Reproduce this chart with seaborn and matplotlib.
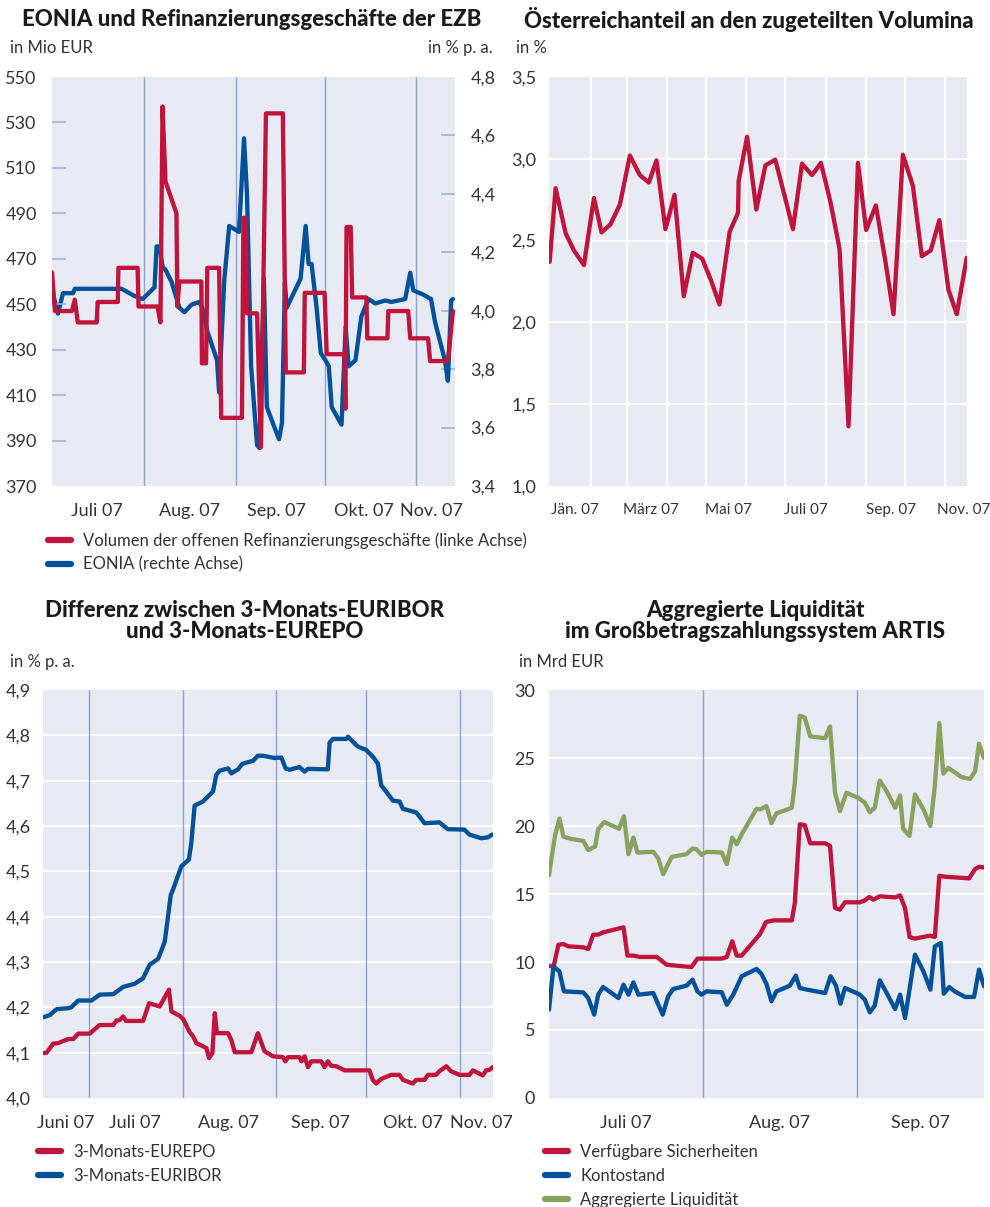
import seaborn as sns
import matplotlib.pyplot as plt
import matplotlib.ticker as ticker
from matplotlib.lines import Line2D

# x values are day-of-year 2007 (1 = 1 Jan)

# --- Panel 1: EONIA und Refinanzierungsgeschäfte ---
vol_days = [182.0, 183.0, 188.7, 189.7, 190.7, 197.1, 197.4, 204.2, 204.4, 210.9,
            211.2, 217.6, 218.6, 219.3, 220.3, 224.0, 224.3, 225.0, 232.4, 232.6,
            234.0, 234.4, 238.4, 239.1, 246.1, 246.6, 247.4, 247.8, 251.2, 252.5,
            254.2, 259.9, 260.9, 267.0, 267.3, 274.0, 274.7, 280.7, 281.0, 281.4,
            282.8, 283.3, 288.1, 288.4, 295.2, 295.5, 302.2, 302.9, 308.9, 309.6,
            315.6, 317.3]
vol_vals = [464, 447, 447, 452, 442, 442, 451, 451, 466, 466,
            449, 449, 442, 537, 504, 490, 449, 460, 460, 424,
            424, 466, 466, 400, 400, 488, 488, 446, 446, 387,
            534, 534, 420, 420, 455, 455, 428, 428, 404, 484,
            484, 453, 453, 435, 435, 447, 447, 435, 435, 425,
            425, 447]
eonia_days = [182.0, 184.0, 185.7, 189.1, 189.7, 205.5, 209.9, 212.6, 216.6, 217.3,
              218.3, 219.3, 220.3, 222.3, 225.0, 226.7, 229.0, 231.7, 232.7, 234.4,
              237.7, 238.4, 240.1, 241.8, 245.1, 246.8, 247.8, 249.2, 251.2, 252.0,
              253.5, 254.5, 258.6, 259.6, 260.6, 261.2, 265.9, 267.6, 268.6, 269.6,
              271.3, 272.7, 274.3, 275.4, 276.4, 279.7, 281.1, 282.1, 284.4, 286.4,
              288.8, 291.1, 294.5, 296.5, 301.2, 302.9, 303.9, 307.3, 309.9, 311.3,
              314.6, 315.6, 316.7, 317.3]
eonia_vals = [4.07, 3.99, 4.06, 4.06, 4.075, 4.075, 4.05, 4.04, 4.08, 4.22,
              4.22, 4.15, 4.14, 4.10, 4.01, 3.995, 4.02, 4.03, 4.01, 3.93,
              3.83, 3.72, 4.10, 4.29, 4.27, 4.59, 4.40, 3.81, 3.54, 3.53,
              4.11, 3.67, 3.56, 3.615, 4.095, 4.01, 4.11, 4.29, 4.16, 4.16,
              4.01, 3.855, 3.83, 3.81, 3.67, 3.61, 3.945, 3.81, 3.83, 3.98,
              4.04, 4.025, 4.035, 4.03, 4.04, 4.13, 4.07, 4.055, 4.04, 3.96,
              3.83, 3.76, 4.035, 4.04]

# --- Panel 2: Österreichanteil ---
aut_days = [0.5, 5.1, 12.8, 19.2, 26.9, 34.6, 40.5, 47.4, 54.6, 62.3,
            70.0, 76.9, 82.8, 89.7, 96.7, 103.8, 110.7, 118.0, 124.9, 131.3,
            139.2, 145.6, 146.1, 152.6, 159.7, 166.7, 174.3, 181.3, 187.9, 194.9,
            202.6, 209.5, 216.7, 223.8, 230.7, 238.0, 244.3, 251.8, 259.0, 265.4,
            272.6, 280.3, 287.2, 294.1, 300.7, 307.7, 314.1, 321.8]
aut_vals = [2.37, 2.82, 2.545, 2.44, 2.35, 2.76, 2.55, 2.60, 2.72, 3.02,
            2.90, 2.855, 2.99, 2.57, 2.78, 2.16, 2.425, 2.39, 2.255, 2.11,
            2.555, 2.67, 2.865, 3.135, 2.69, 2.96, 2.995, 2.78, 2.57, 2.97,
            2.90, 2.975, 2.74, 2.45, 1.365, 2.975, 2.565, 2.715, 2.38, 2.05,
            3.025, 2.835, 2.405, 2.44, 2.625, 2.20, 2.05, 2.395]

# --- Panel 3: EURIBOR / EUREPO ---
eur_days = [166.75, 169.0, 171.2, 175.0, 176.1, 178.4, 182.8, 185.5, 190.0, 193.3,
            197.1, 199.9, 202.1, 204.9, 207.1, 209.1, 209.8, 212.6, 215.1, 215.9,
            217.0, 219.8, 221.4, 223.1, 224.2, 225.3, 228.1, 229.2, 231.4, 232.8,
            236.4, 238.0, 239.7, 243.5, 245.8, 247.2, 248.5, 251.8, 253.5, 254.6,
            261.2, 261.8, 262.9, 267.3, 267.9, 269.5, 271.2, 273.9, 276.1, 277.8,
            278.9, 281.1, 282.8, 285.0, 286.1, 290.5, 291.6, 293.3, 298.2, 301.0,
            306.5, 308.2, 312.1, 314.3, 315.7]
eur_vals = [4.178, 4.183, 4.196, 4.198, 4.20, 4.215, 4.215, 4.228, 4.229, 4.245,
            4.252, 4.264, 4.294, 4.307, 4.345, 4.448, 4.459, 4.511, 4.526, 4.562,
            4.645, 4.654, 4.665, 4.676, 4.713, 4.722, 4.727, 4.716, 4.725, 4.737,
            4.744, 4.755, 4.755, 4.750, 4.751, 4.727, 4.724, 4.730, 4.720, 4.726,
            4.725, 4.784, 4.792, 4.792, 4.797, 4.786, 4.775, 4.768, 4.753, 4.738,
            4.69, 4.671, 4.656, 4.654, 4.638, 4.630, 4.621, 4.606, 4.608, 4.593,
            4.592, 4.581, 4.573, 4.575, 4.581]
rep_days = [166.75, 167.9, 170.1, 171.7, 175.0, 176.7, 178.4, 182.2, 183.9, 185.5,
            190.0, 191.1, 192.2, 193.3, 194.2, 199.9, 201.9, 205.4, 208.5, 209.3,
            212.1, 213.2, 215.4, 216.5, 217.6, 219.8, 220.9, 221.8, 222.9, 223.7,
            224.4, 228.1, 229.2, 230.3, 235.8, 238.0, 240.2, 243.0, 246.3, 247.1,
            248.0, 251.8, 252.4, 253.5, 254.6, 255.7, 259.0, 260.1, 261.2, 262.3,
            264.0, 266.8, 275.0, 276.1, 277.2, 278.9, 282.2, 285.0, 286.1, 289.4,
            290.5, 293.3, 294.4, 297.1, 298.2, 300.5, 302.1, 304.9, 308.2, 309.3,
            312.6, 313.7, 314.8, 315.9]
rep_vals = [4.099, 4.10, 4.12, 4.121, 4.130, 4.130, 4.142, 4.142, 4.152, 4.161,
            4.161, 4.171, 4.172, 4.18, 4.170, 4.170, 4.209, 4.202, 4.239, 4.191,
            4.181, 4.174, 4.145, 4.136, 4.121, 4.114, 4.110, 4.088, 4.099, 4.187,
            4.143, 4.143, 4.128, 4.101, 4.101, 4.143, 4.103, 4.092, 4.090, 4.081,
            4.090, 4.090, 4.081, 4.092, 4.068, 4.081, 4.081, 4.068, 4.081, 4.071,
            4.070, 4.061, 4.061, 4.040, 4.032, 4.042, 4.051, 4.051, 4.040, 4.032,
            4.040, 4.040, 4.051, 4.051, 4.059, 4.070, 4.059, 4.051, 4.051, 4.061,
            4.050, 4.061, 4.062, 4.068]

# --- Panel 4: ARTIS ---
liq_days = [182.0, 183.2, 184.1, 184.9, 186.2, 188.9, 189.9, 191.3, 191.9, 193.1,
            196.1, 197.1, 198.0, 199.0, 199.8, 203.0, 204.0, 205.0, 206.7, 209.7,
            210.9, 211.7, 212.7, 213.7, 216.8, 217.8, 218.9, 219.8, 220.8, 223.8,
            224.5, 225.8, 226.8, 227.8, 230.9, 231.5, 232.5, 233.5, 234.6, 237.6,
            238.6, 239.6, 240.6, 241.9, 244.3, 245.6, 246.6, 247.6, 248.6, 250.0,
            251.7, 252.7, 253.3, 254.6, 255.7, 257.4, 258.8, 259.7, 260.6, 261.4,
            262.4, 263.7, 265.1, 266.8, 267.8, 268.6, 269.6]
liq_vals = [16.39, 19.27, 20.54, 19.22, 19.07, 18.90, 18.24, 18.49, 19.76, 20.29,
            19.80, 20.73, 17.93, 19.15, 18.05, 18.10, 17.61, 16.46, 17.73, 17.93,
            18.34, 18.29, 17.88, 18.10, 18.05, 17.20, 19.15, 18.66, 19.39, 21.27,
            21.22, 21.46, 20.20, 20.93, 21.34, 23.17, 28.10, 27.98, 26.59, 26.46,
            27.32, 22.44, 21.10, 22.44, 22.07, 21.71, 21.02, 21.34, 23.34, 22.56,
            21.34, 22.24, 19.80, 19.27, 22.32, 21.22, 20.00, 22.93, 27.56, 23.85,
            24.27, 23.95, 23.59, 23.46, 24.02, 26.05, 25.00]
sich_days = [182.0, 182.9, 183.9, 184.9, 185.9, 188.9, 189.9, 190.9, 191.9, 192.9,
             197.0, 197.8, 199.0, 200.3, 203.7, 205.7, 207.0, 210.7, 211.9, 216.8,
             217.8, 218.9, 219.8, 220.8, 224.5, 225.7, 227.2, 230.9, 231.5, 232.5,
             233.5, 234.6, 237.6, 238.6, 239.6, 240.6, 241.6, 244.6, 245.6, 246.5,
             247.3, 248.6, 251.7, 252.7, 253.7, 254.6, 255.7, 258.7, 259.7, 260.6,
             261.7, 266.6, 267.8, 268.6, 269.6]
sich_vals = [9.73, 9.63, 11.27, 11.32, 11.15, 11.08, 10.96, 12.01, 12.01, 12.18,
             12.55, 10.47, 10.47, 10.37, 10.37, 9.80, 9.75, 9.63, 10.25, 10.25,
             10.37, 11.52, 10.47, 10.47, 12.06, 12.94, 13.06, 13.06, 14.34, 20.12,
             20.07, 18.73, 18.73, 18.54, 13.97, 13.85, 14.39, 14.39, 14.53, 14.78,
             14.58, 14.83, 14.75, 14.90, 13.97, 11.84, 11.72, 11.94, 11.84, 16.34,
             16.27, 16.15, 16.83, 17.0, 16.95]
konto_days = [182.0, 182.9, 184.1, 185.0, 188.9, 189.9, 191.1, 191.9, 192.9, 196.0,
              197.0, 198.0, 199.0, 200.0, 203.0, 204.9, 206.0, 207.0, 209.7, 210.9,
              211.9, 212.7, 213.7, 216.8, 217.8, 219.1, 220.8, 223.8, 224.8, 225.8,
              226.8, 227.8, 230.5, 231.7, 232.5, 233.9, 237.6, 238.7, 239.8, 240.7,
              241.6, 243.6, 244.6, 245.6, 246.6, 247.6, 248.6, 250.0, 251.7, 252.7,
              253.7, 255.7, 257.4, 258.8, 259.7, 260.9, 261.5, 262.6, 263.7, 265.8,
              267.6, 268.6, 269.6]
konto_vals = [6.50, 9.68, 9.31, 7.84, 7.77, 7.35, 6.13, 7.60, 8.16, 7.35,
              8.33, 7.60, 8.50, 7.60, 7.72, 6.13, 7.48, 8.01, 8.26, 8.70,
              7.84, 7.60, 7.84, 7.77, 6.86, 7.60, 8.95, 9.49, 9.12, 8.38,
              7.11, 7.84, 8.26, 9.00, 8.09, 7.97, 7.72, 8.95, 8.26, 6.94,
              8.09, 7.77, 7.60, 7.23, 6.30, 6.79, 8.65, 7.72, 6.54, 7.60,
              5.88, 10.54, 9.31, 7.97, 11.15, 11.40, 7.67, 8.16, 7.84, 7.43,
              7.43, 9.44, 8.21]

month_starts = [32, 60, 91, 121, 152, 182, 213, 244, 274, 305]

RED = "#c0143c"
BLUE = "#00509a"
GREEN = "#89a15e"
BG = "#e7e9f3"
VLINE = "#8ea2d0"
TEXT = "#333333"

sns.set_theme(style="white")
plt.rcParams['font.family'] = ['Lato', 'DejaVu Sans']
plt.rcParams['text.color'] = TEXT

fig = plt.figure(figsize=(9.9, 12.07), dpi=100)
W, H = 990, 1207


def px_axes(l, t, r, b):
    return fig.add_axes([l / W, 1 - b / H, (r - l) / W, (b - t) / H])


def comma(v, pos):
    return f"{v:.1f}".replace(".", ",")


def base_style(ax):
    ax.set_facecolor(BG)
    for s in ax.spines.values():
        s.set_visible(False)
    ax.tick_params(axis="both", length=0, labelsize=13, labelcolor=TEXT)
    ax.set_xlabel("")
    ax.set_ylabel("")


def ftext(x, y, s, **kw):
    fig.text(x / W, 1 - y / H, s, **kw)


def legend_at(x, y, colors, labels):
    handles = [Line2D([0], [0], color=c, lw=4.5, solid_capstyle="round") for c in colors]
    fig.legend(handles, labels, loc="upper left", bbox_to_anchor=(x / W, 1 - y / H),
               frameon=False, fontsize=12, handlelength=1.4, handletextpad=0.7,
               labelspacing=0.47, borderpad=0, borderaxespad=0)


line_kw = dict(estimator=None, sort=False, lw=3.1)
title_kw = dict(ha="center", va="center", fontsize=16, fontweight="black",
                color="#1a1a1a", linespacing=1.0)

# ---------------- Panel 1 ----------------
ax1 = px_axes(52, 77, 455, 486)
base_style(ax1)
ax1r = ax1.twinx()
for s in ax1r.spines.values():
    s.set_visible(False)
# background, month lines and EONIA on the twin, volume drawn above it
ax1r.set_zorder(1)
ax1.set_zorder(2)
ax1.patch.set_visible(False)
ax1r.patch.set_visible(True)
ax1r.set_facecolor(BG)
for d in [213, 244, 274, 305]:
    ax1r.axvline(d, color=VLINE, lw=1, zorder=1)
sns.lineplot(x=eonia_days, y=eonia_vals, ax=ax1r, color=BLUE, **line_kw)
sns.lineplot(x=vol_days, y=vol_vals, ax=ax1, color=RED, **line_kw)
ax1.set_xlim(182, 318)
ax1.set_ylim(370, 550)
ax1.set_yticks(range(370, 551, 20))
ax1.tick_params(axis="y", direction="in", length=10, width=1.2, color="#9fb1da", pad=11)
ax1.set_xticks([197.1, 228.3, 257.6, 287.4, 310.0],
               ["Juli 07", "Aug. 07", "Sep. 07", "Okt. 07", "Nov. 07"])
ax1.tick_params(axis="x", pad=12)
yt = ax1.yaxis.get_major_ticks()
yt[0].tick1line.set_visible(False)
yt[-1].tick1line.set_visible(False)

ax1r.set_ylim(3.4, 4.8)
ax1r.set_yticks([3.4, 3.6, 3.8, 4.0, 4.2, 4.4, 4.6, 4.8])
ax1r.yaxis.set_major_formatter(ticker.FuncFormatter(comma))
ax1r.tick_params(axis="y", direction="in", length=10, width=1.2, color="#9fb1da",
                 pad=11, labelsize=13, labelcolor=TEXT)
ax1r.set_ylabel("")
yt = ax1r.yaxis.get_major_ticks()
yt[0].tick2line.set_visible(False)
yt[-1].tick2line.set_visible(False)

ftext(252, 20, "EONIA und Refinanzierungsgeschäfte der EZB", **title_kw)
ftext(10, 48, "in Mio EUR", ha="left", va="center", fontsize=12)
ftext(493, 48, "in % p. a.", ha="right", va="center", fontsize=12)
legend_at(48, 532, [RED, BLUE],
          ["Volumen der offenen Refinanzierungsgeschäfte (linke Achse)", "EONIA (rechte Achse)"])

# ---------------- Panel 2 ----------------
ax2 = px_axes(549, 77, 967, 486)
base_style(ax2)
for d in month_starts:
    ax2.axvline(d, color="white", lw=1.5, zorder=1)
for v in [1.5, 2.0, 2.5, 3.0]:
    ax2.axhline(v, color="white", lw=1.5, zorder=1)
sns.lineplot(x=aut_days, y=aut_vals, ax=ax2, color=RED, **line_kw)
ax2.set_xlim(0, 322)
ax2.set_ylim(1.0, 3.5)
ax2.set_yticks([1.0, 1.5, 2.0, 2.5, 3.0, 3.5])
ax2.yaxis.set_major_formatter(ticker.FuncFormatter(comma))
ax2.tick_params(axis="y", pad=9)
ax2.set_xticks([19.7, 78.2, 138.2, 198.2, 263.6, 319.7],
               ["Jän. 07", "März 07", "Mai 07", "Juli 07", "Sep. 07", "Nov. 07"])
ax2.tick_params(axis="x", pad=12, labelsize=11)
ftext(749, 20, "Österreichanteil an den zugeteilten Volumina", **title_kw)
ftext(516, 48, "in %", ha="left", va="center", fontsize=12)

# ---------------- Panel 3 ----------------
ax3 = px_axes(43, 690, 493, 1098)
base_style(ax3)
for d in [182, 213, 244, 274, 305]:
    ax3.axvline(d, color=VLINE, lw=1, zorder=1)
for v in [4.1, 4.2, 4.3, 4.4, 4.5, 4.6, 4.7, 4.8]:
    ax3.axhline(v, color="white", lw=1.5, zorder=0.9)
sns.lineplot(x=rep_days, y=rep_vals, ax=ax3, color=RED, **line_kw)
sns.lineplot(x=eur_days, y=eur_vals, ax=ax3, color=BLUE, **line_kw)
ax3.set_xlim(166.7, 316)
ax3.set_ylim(4.0, 4.9)
ax3.set_yticks([4.0, 4.1, 4.2, 4.3, 4.4, 4.5, 4.6, 4.7, 4.8, 4.9])
ax3.yaxis.set_major_formatter(ticker.FuncFormatter(comma))
ax3.tick_params(axis="y", pad=9)
ax3.set_xticks([174.4, 197.3, 228.1, 258.9, 289.4, 312.0],
               ["Juni 07", "Juli 07", "Aug. 07", "Sep. 07", "Okt. 07", "Nov. 07"])
ax3.tick_params(axis="x", pad=12)
ftext(245, 621, "Differenz zwischen 3-Monats-EURIBOR\nund 3-Monats-EUREPO", **title_kw)
ftext(10, 662, "in % p. a.", ha="left", va="center", fontsize=12)
legend_at(38, 1144, [RED, BLUE], ["3-Monats-EUREPO", "3-Monats-EURIBOR"])

# ---------------- Panel 4 ----------------
ax4 = px_axes(549, 690, 984, 1098)
base_style(ax4)
for d in [213, 244]:
    ax4.axvline(d, color=VLINE, lw=1, zorder=1)
for v in [5, 10, 15, 20, 25]:
    ax4.axhline(v, color="white", lw=1.5, zorder=0.9)
sns.lineplot(x=liq_days, y=liq_vals, ax=ax4, color=GREEN, **line_kw)
sns.lineplot(x=sich_days, y=sich_vals, ax=ax4, color=RED, **line_kw)
sns.lineplot(x=konto_days, y=konto_vals, ax=ax4, color=BLUE, **line_kw)
ax4.set_xlim(182, 269.6)
ax4.set_ylim(0, 30)
ax4.set_yticks([0, 5, 10, 15, 20, 25, 30])
ax4.tick_params(axis="y", pad=10)
ax4.set_xticks([197.5, 228.5, 256.8], ["Juli 07", "Aug. 07", "Sep. 07"])
ax4.tick_params(axis="x", pad=12)
ftext(755, 621, "Aggregierte Liquidität\nim Großbetragszahlungssystem ARTIS", **title_kw)
ftext(519, 662, "in Mrd EUR", ha="left", va="center", fontsize=12)
legend_at(545, 1144, [RED, BLUE, GREEN],
          ["Verfügbare Sicherheiten", "Kontostand", "Aggregierte Liquidität"])

fig.savefig("out.png", dpi=100)
